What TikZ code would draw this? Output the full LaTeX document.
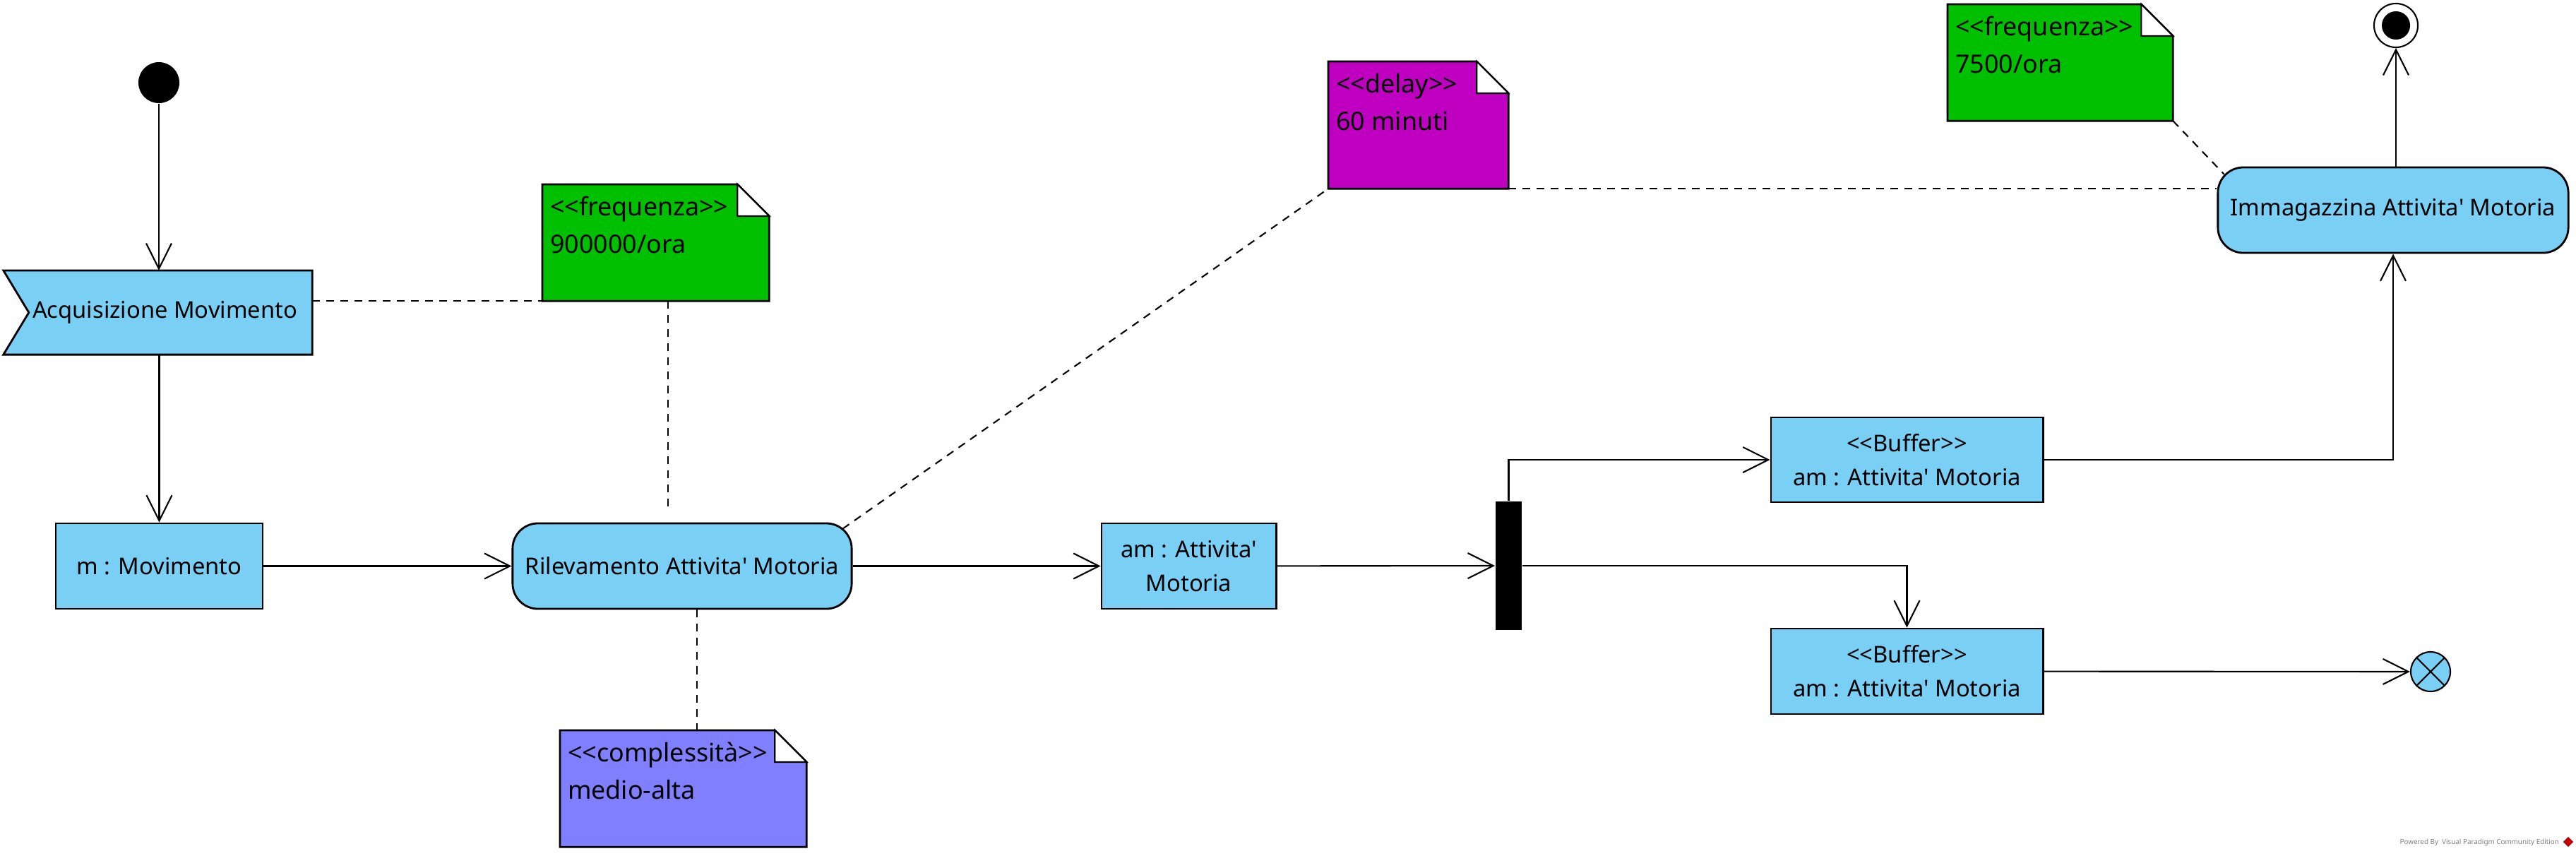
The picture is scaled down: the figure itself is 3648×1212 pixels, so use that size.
\documentclass[tikz,border=0pt]{standalone}
\usepackage{fontspec}
\setmainfont{Noto Sans}[Ligatures=TeXOff]
\usetikzlibrary{arrows.meta,positioning,backgrounds}
\usepackage{xcolor}

\definecolor{actblue}{RGB}{122,207,245}
\definecolor{notegreen}{RGB}{0,192,0}
\definecolor{notepurple}{RGB}{192,0,192}
\definecolor{noteviolet}{RGB}{128,128,255}

\tikzset{
    action/.style={draw,fill=actblue,line width=0.8pt,rounded corners=0.36cm,
        minimum height=1.21cm,align=center,inner sep=0pt},
    objbox/.style={draw,fill=actblue,line width=0.8pt,minimum height=1.21cm,
        align=center,inner sep=0pt},
    notebox/.style={anchor=north west,inner sep=0pt,minimum height=1.63cm},
    notetext/.style={anchor=base west,inner sep=0pt,align=left,
        font=\fontsize{10.2}{14.9}\selectfont},
    notelink/.style={-,dash pattern=on 0.11cm off 0.09cm,line width=0.6pt},
    paper/.style={-,draw,line width=0.8pt}
}

% note sheet with folded corner, drawn behind its text
\newcommand{\notesheet}[2]{%
    \filldraw[paper,fill=#2] (#1.north west) -- ([xshift=-0.45cm]#1.north east)
        -- ([yshift=-0.45cm]#1.north east) -- (#1.south east) -- (#1.south west) -- cycle;
    \filldraw[paper,fill=white,line width=0.6pt] ([xshift=-0.45cm]#1.north east)
        -- ([xshift=-0.45cm,yshift=-0.45cm]#1.north east)
        -- ([yshift=-0.45cm]#1.north east) -- cycle;
}

\begin{document}
\begin{tikzpicture}[->,>={Straight Barb[length=0.36cm,width=0.36cm]},
        x=0.01cm,y=-0.01cm,line width=0.6pt,font=\fontsize{9.3}{13.7}\selectfont]
    \useasboundingbox (0,0) rectangle (3648,1212);

    \node[circle,fill=black,minimum size=0.58cm,inner sep=0pt] (init) at (225,117) {};
    \node[minimum width=4.15cm,minimum height=1.17cm,inner sep=0pt] (acq) at (233.5,442.5) {Acquisizione Movimento};
    \node[objbox,minimum width=2.93cm] (mov) at (225.5,801.5) {m : Movimento};
    \node[action,minimum width=4.80cm] (ril) at (966,801.5) {Rilevamento Attivita' Motoria};
    \node[objbox,minimum width=2.47cm] (am) at (1683.5,801.5) {am : Attivita'\\Motoria};
    \node[fill=black,minimum width=0.37cm,minimum height=1.82cm,inner sep=0pt] (fork) at (2136.5,801) {};
    \node[objbox,minimum width=3.85cm,minimum height=1.20cm] (buf1) at (2700.5,651) {<<Buffer>>\\am : Attivita' Motoria};
    \node[objbox,minimum width=3.85cm] (buf2) at (2700.5,950.5) {<<Buffer>>\\am : Attivita' Motoria};
    \node[circle,draw,fill=actblue,minimum size=0.56cm,inner sep=0pt,
        path picture={\draw[-] (path picture bounding box.north west) -- (path picture bounding box.south east)
            (path picture bounding box.north east) -- (path picture bounding box.south west);}] (flowend) at (3442,951) {};
    \node[action,minimum width=4.96cm] (imm) at (3389,297.5) {Immagazzina Attivita' Motoria};
    \node[circle,draw,fill=white,minimum size=0.62cm,inner sep=0pt,
        path picture={\fill[black] (path picture bounding box.center) circle (0.2cm);}] (final) at (3393,36) {};

    % notes
    \node[notebox,minimum width=3.19cm] (freqA) at (768,261) {};
    \node[notebox,minimum width=3.47cm] (compl) at (793,1034) {};
    \node[notebox,minimum width=2.53cm,minimum height=1.78cm] (delay) at (1881,87) {};
    \node[notebox,minimum width=3.17cm] (freqB) at (2758,6) {};

    \begin{scope}[on background layer]
        \filldraw[paper,fill=actblue] ([xshift=-0.2cm]acq.north west) -- (acq.north east) -- (acq.south east)
            -- ([xshift=-0.2cm]acq.south west) -- ([xshift=0.16cm]acq.west) -- cycle;
        \notesheet{freqA}{notegreen}
        \notesheet{compl}{noteviolet}
        \notesheet{delay}{notepurple}
        \notesheet{freqB}{notegreen}
    \end{scope}

    \node[notetext] (freqAtext) at ([shift={(10,97)}]freqA.north west) {<<frequenza>>\\900000/ora};
    \node[notetext] (compltext) at ([shift={(10,97)}]compl.north west) {<<complessità>>\\medio-alta};
    \node[notetext] (delaytext) at ([shift={(10,97)}]delay.north west) {<<delay>>\\60 minuti};
    \node[notetext] (freqBtext) at ([shift={(10,97)}]freqB.north west) {<<frequenza>>\\7500/ora};

    \path (init) edge (init |- acq.north)
        (acq.south -| mov) edge (mov)
        (mov) edge (ril)
        (ril) edge (am)
        (am) edge (fork)
        (buf2) edge (flowend)
        (imm.north -| final) edge (final);
    \draw (fork.north) |- (buf1);
    \draw (fork.east) -| (buf2);
    \draw (buf1) -| (imm);

    % note links
    \coordinate (freqAfoot) at ([xshift=0.17cm]freqA.south);
    \coordinate (rilfoot) at ([xshift=0.21cm]ril.south);
    \draw[notelink] (acq.east |- freqA.south west) -- (freqA.south west);
    \draw[notelink,shorten >=0.14cm] (freqAfoot) -- (freqAfoot |- ril.north);
    \draw[notelink] (rilfoot) -- (rilfoot |- compl.north);
    \draw[notelink] ([xshift=-0.14cm,yshift=-0.09cm]ril.north east) -- (delay.south west);
    \draw[notelink] (delay.south east) -- (delay.south east -| imm.west);
    \draw[notelink] (freqB.south east) -- ([xshift=0.1cm,yshift=-0.11cm]imm.north west);

    \node[anchor=base east,inner sep=0pt,text=gray,font=\fontsize{2.8}{3}\selectfont] (vpmark) at (3625,1195) {Powered By\ \ Visual Paradigm Community Edition};
    \node[fill=red!75!black,rotate=45,minimum size=0.1cm,inner sep=0pt] (vplogo) at (3637,1192) {};
\end{tikzpicture}
\end{document}
